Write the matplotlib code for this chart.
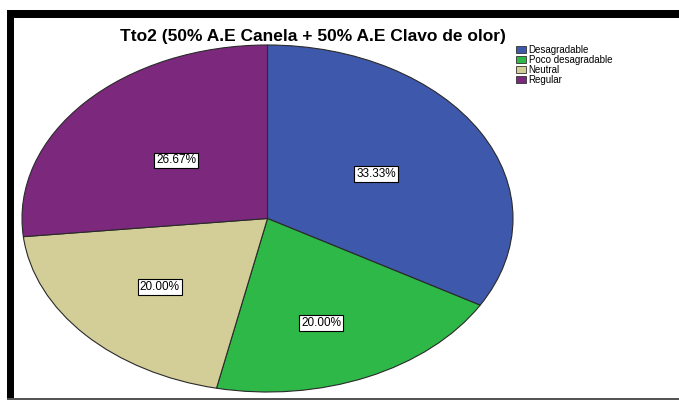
import matplotlib
matplotlib.use("Agg")
import matplotlib.pyplot as plt
import numpy as np
from matplotlib.patches import Rectangle, Patch

title = "Tto2 (50% A.E Canela + 50% A.E Clavo de olor)"
categories = ["Desagradable", "Poco desagradable", "Neutral", "Regular"]
percentages = [33.33, 20.00, 20.00, 26.67]
colors = ["#3E58AC", "#2EB848", "#D3CE97", "#7C287D"]
label_radius = [0.51, 0.64, 0.59, 0.50]
label_angle_shift = [0, -4, 0, 0]

plt.rcParams['font.family'] = ['Liberation Sans', 'DejaVu Sans']

W, H = 679, 401
fig = plt.figure(figsize=(W / 100, H / 100), dpi=100)
fig.patch.set_facecolor("white")

def fx(x):
    return x / W

def fy(y):
    return 1 - y / H

# frame bands
fig.patches.append(Rectangle((fx(7), fy(18)), fx(679 - 7), 8 / H, transform=fig.transFigure,
                             facecolor="black", edgecolor="none", zorder=5))
fig.patches.append(Rectangle((fx(7), fy(398)), fx(7), 388 / H, transform=fig.transFigure,
                             facecolor="black", edgecolor="none", zorder=5))
fig.patches.append(Rectangle((fx(7), fy(399.5)), fx(679 - 7), 2 / H, transform=fig.transFigure,
                             facecolor="#555555", edgecolor="none", zorder=5))

left, right, top, bottom = 22, 513, 45, 392
ax = fig.add_axes([fx(left), fy(bottom), fx(right - left), (bottom - top) / H])
wedges, texts, autotexts = ax.pie(
    percentages, colors=colors, startangle=90, counterclock=False,
    autopct="%.2f%%", pctdistance=0.5,
    wedgeprops=dict(edgecolor="#2a2a2a", linewidth=0.8),
    textprops=dict(fontsize=8.5, color="black"),
)
for w, t, r, s in zip(wedges, autotexts, label_radius, label_angle_shift):
    ang = np.deg2rad((w.theta1 + w.theta2) / 2 + s)
    t.set_position((r * np.cos(ang), r * np.sin(ang)))
    t.set_bbox(dict(facecolor="white", edgecolor="black", linewidth=0.8, pad=1.4))
ax.set_aspect("auto")
ax.set_xlim(-1.0, 1.0)
ax.set_ylim(-1.0, 1.0)
ax.axis("off")

fig.text(fx(313), fy(37), title, ha="center", va="center", fontsize=12.5, fontweight="bold")

handles = [Patch(facecolor=c, edgecolor="#333333", linewidth=0.6) for c in colors]
fig.legend(handles, categories, loc="upper left", bbox_to_anchor=(fx(514), fy(43)),
           frameon=False, fontsize=7, handlelength=1.0, handleheight=0.7,
           handletextpad=0.3, labelspacing=0.0, borderpad=0.2, borderaxespad=0)

fig.savefig("out.png", dpi=100)
